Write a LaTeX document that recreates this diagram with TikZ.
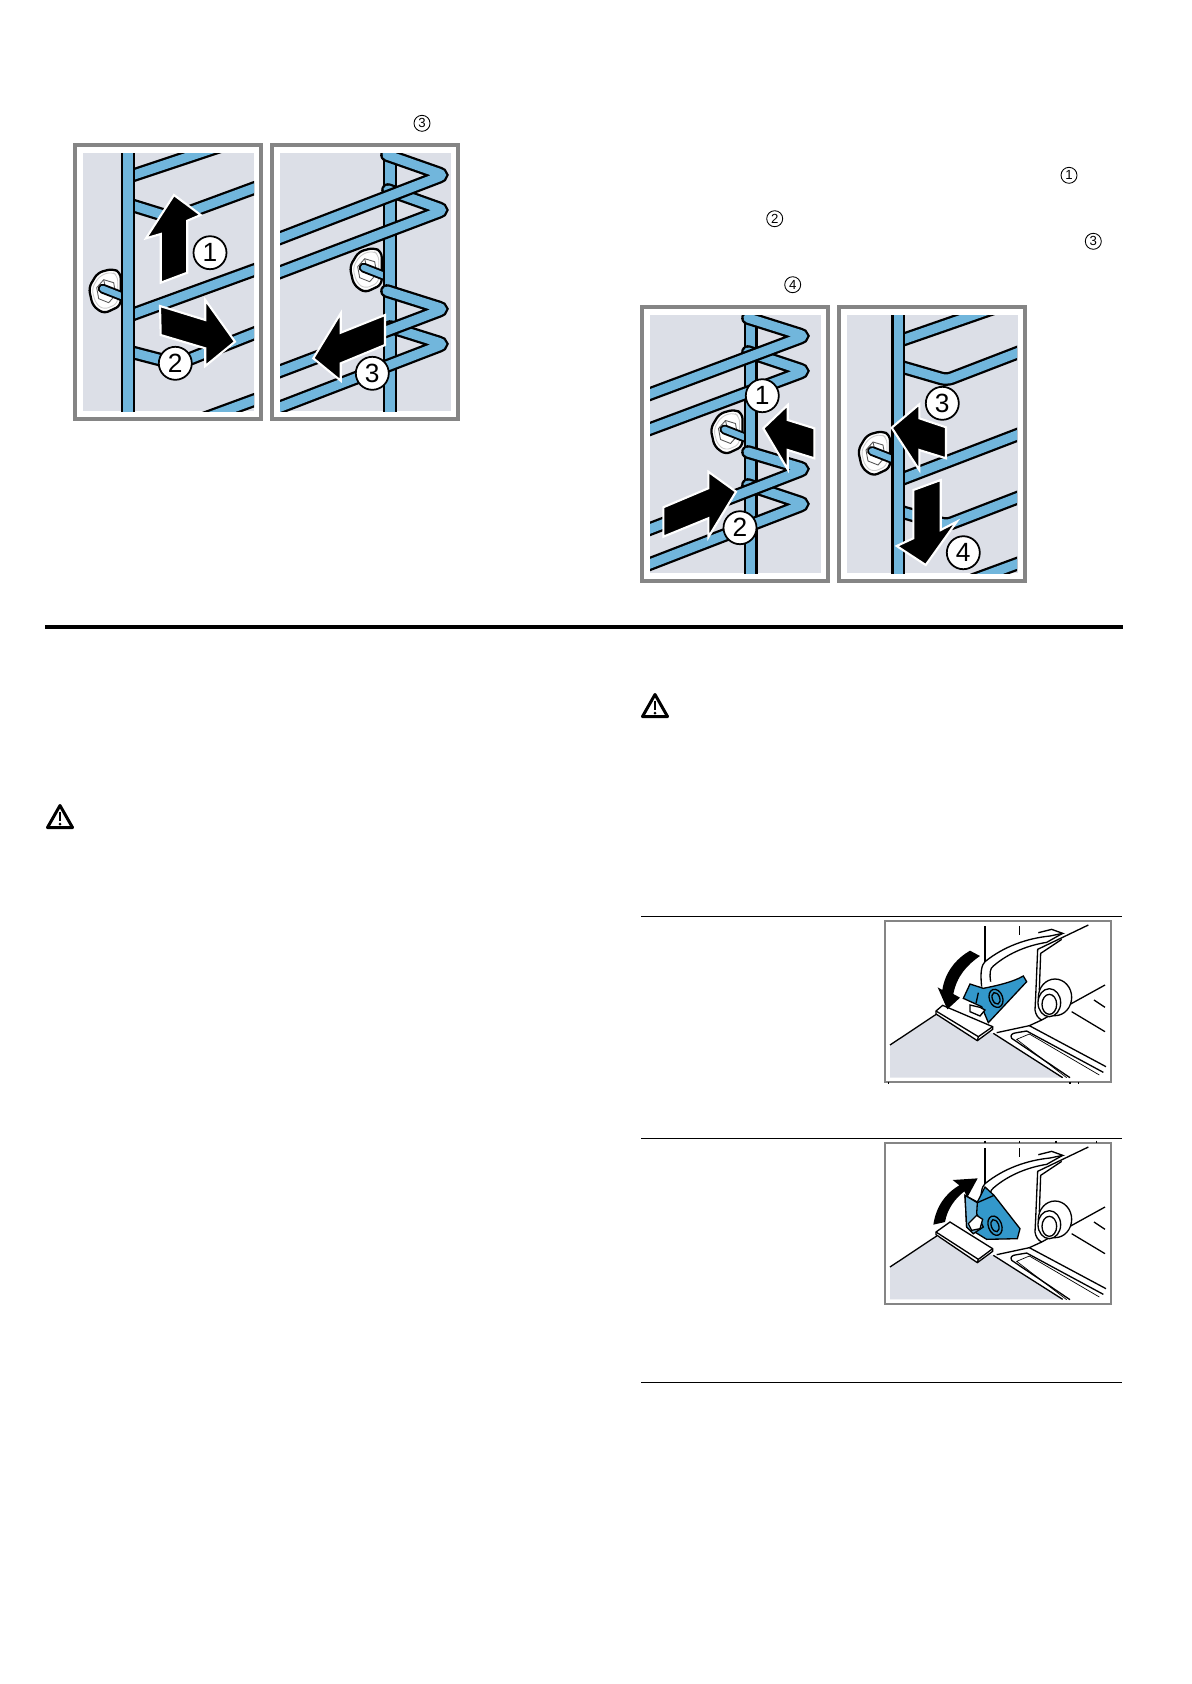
\documentclass[tikz,border=0pt]{standalone}
\usepackage{fontspec}
\setmainfont{Liberation Sans}
\usetikzlibrary{positioning}

\definecolor{rackblue}{HTML}{71B6DC}
\definecolor{latchblue}{HTML}{3398CB}
\definecolor{panelgrey}{HTML}{DCDFE7}
\definecolor{framegrey}{HTML}{858585}

\newcommand{\wirerun}[1]{\draw[wireedge] #1; \draw[wirefill] #1;}
\newcommand{\boltat}[2]{
  \begin{scope}[shift={(#1,#2)}]
    \draw[washer] (-17,-4) -- (-8,-19) -- (7,-23) -- (15,-19) -- (15,14) -- (-2,22) -- (-13,14) -- cycle;
    \draw[washerring] (-14,-3) -- (-6,-16) -- (6,-20) -- (12,-16) -- (12,12) -- (-2,18) -- (-10,12) -- cycle;
    \draw[boltnut] (-9,-4) -- (-2,-12) -- (8,-9) -- (10,3) -- (3,11) -- (-7,7) -- cycle;
    \draw[boltnut] (-2,-12) -- (0,-3) -- (10,3);
    \draw[stickedge] (-3,-3) -- (20,6);
    \draw[stickfill] (-3,-3) -- (20,6);
  \end{scope}
}
\newcommand{\ovenbody}{
  \draw[thinline] (345,48) -- (345,155);
  \draw[thinline] (448,48) -- (448,75);
  \draw[thinline] (335,230) .. controls (330,185) and (335,165) .. (345,155) .. controls (400,110) and (470,85) .. (540,78) -- (578,70) -- (545,58) -- (505,68);
  \draw[thinline] (362,215) .. controls (358,190) and (360,175) .. (370,168) .. controls (420,125) and (480,105) .. (530,97) -- (578,70);
  \draw[thinline] (655,45) -- (503,118) -- (497,260) -- (495,300) .. controls (497,315) and (505,325) .. (515,330) -- (705,225);
  \draw[thinline] (575,88) -- (512,130) -- (508,240);
  \draw[thinline,fill=white] (555,262) ellipse (50 and 55);
  \draw[thinline,fill=white] (538,278) ellipse (34 and 42);
  \draw[thinline] (538,283) ellipse (22 and 30);
  \draw[thinline] (605,305) -- (705,365);
  \draw[thinline] (672,270) -- (705,292);
  \draw[thinline] (380,368) -- (478,347) -- (708,470);
  \draw[thinline] (515,330) -- (478,347);
  \draw[thinline] (600,503) -- (425,385) .. controls (420,375) and (425,370) .. (440,368) -- (470,363) -- (700,487);
  \draw[hairline] (590,503) -- (440,388) -- (478,372) -- (688,495);
}

\begin{document}
\begin{tikzpicture}[
  x=0.02cm, y=-0.02cm,
  wireedge/.style={draw=black, line width=7.8pt, line cap=round, rounded corners=3pt},
  wirefill/.style={draw=rackblue, line width=5.2pt, line cap=round, rounded corners=3pt},
  stickedge/.style={draw=black, line width=5.6pt, line cap=round},
  stickfill/.style={draw=rackblue, line width=3.4pt, line cap=round},
  washer/.style={draw=black, fill=white, line width=1.3pt, rounded corners=3pt},
  washerring/.style={draw=black!20, line width=0.5pt, rounded corners=3pt},
  boltnut/.style={draw=black!65, fill=none, line width=0.5pt},
  framebox/.style={draw=framegrey, fill=white, line width=1.9pt},
  latchbox/.style={draw=framegrey, fill=white, line width=1.1pt},
  greybox/.style={fill=panelgrey},
  bigarrow/.style={draw=white, fill=black, line width=1.2pt, miter limit=20},
  numlabel/.style={draw=black, fill=white, circle, line width=1pt, minimum size=0.66cm, inner sep=0pt, font=\fontsize{15}{15}\selectfont},
  smallnum/.style={draw=black, circle, line width=0.5pt, minimum size=0.32cm, inner sep=0pt, font=\fontsize{7.5}{8}\selectfont},
  thinline/.style={draw=black, line width=0.75pt},
  hairline/.style={draw=black, line width=0.4pt},
  warntri/.style={draw=black, line width=1.7pt, line join=round, fill=white},
  ruleline/.style={draw=black, line width=0.55pt}
]
\useasboundingbox (0,0) rectangle (1191,1684);
\fill[white] (0,0) rectangle (1191,1684);

% frames of the rack pictures
\foreach \px/\py in {75/145, 272/145, 642/307, 839/307} {
  \draw[framebox] (\px,\py) rectangle ++(186,274);
  \fill[greybox] (\px+8,\py+8) rectangle ++(171,258);
}

% rack, first picture
\begin{scope}
  \clip (83,153) rectangle (254,411);
  \wirerun{(131,176) -- (230,143)}
  \wirerun{(131,205) -- (173,218) -- (260,186)}
  \wirerun{(131,315) -- (260,268)}
  \wirerun{(131,352) -- (177,364) -- (260,331)}
  \wirerun{(200,420) -- (260,398)}
  \boltat{105.7}{291.7}
  \draw[wireedge,line cap=butt] (128,150) -- (128,415);
  \draw[wirefill,line cap=butt] (128,150) -- (128,415);
  \draw[bigarrow] (174,195) -- (200.7,215) -- (187.3,220.7) -- (187.3,272.7) -- (160.7,282.7) -- (160.7,234) -- (146,238.3) -- cycle;
  \draw[bigarrow] (160,306) -- (205.3,320) -- (205.3,300) -- (235,341.7) -- (205.3,366) -- (205.3,348.3) -- (160.7,335) -- cycle;
\end{scope}
\node[numlabel] (upperone) at (210,252.7) {1};
\node[numlabel] (uppertwo) at (175.3,363.3) {2};

% rack, second picture
\begin{scope}
  \clip (280,153) rectangle (449,411);
  \boltat{366.7}{270.7}
  \draw[wireedge,line cap=butt] (390,150) -- (390,415);
  \draw[wirefill,line cap=butt] (390,150) -- (390,415);
  \wirerun{(388,190) -- (444,210) -- (270,276)}
  \wirerun{(387,155) -- (444,175) -- (270,242)}
  \wirerun{(390,327) -- (444,344) -- (270,411)}
  \wirerun{(387,291) -- (444,309) -- (270,375)}
  \draw[bigarrow] (385,315) -- (385,345) -- (340.7,363.3) -- (340.7,380.7) -- (313.3,358.3) -- (340.7,313.3) -- (340.7,332.7) -- cycle;
\end{scope}
\node[numlabel] (upperthree) at (372.3,373.3) {3};

% rack, third picture
\begin{scope}
  \clip (650,315) rectangle (820,573);
  \boltat{727.5}{432.5}
  \draw[wireedge,line cap=butt] (750.7,312) -- (750.7,576);
  \draw[wirefill,line cap=butt] (750.7,312) -- (750.7,576);
  \wirerun{(748,352) -- (805,371) -- (642,432)}
  \wirerun{(748,318) -- (805,336) -- (642,397)}
  \wirerun{(748,485) -- (805,504) -- (642,567)}
  \wirerun{(748,452) -- (805,469) -- (642,532)}
  \draw[bigarrow] (787.7,405) -- (787.7,420) -- (814.3,428.3) -- (814.3,458.3) -- (787.7,450) -- (787.7,469.3) -- (763.3,428.3) -- cycle;
  \draw[bigarrow] (663.3,507.3) -- (708.3,488.3) -- (708.3,471.7) -- (736,491.7) -- (708.3,537.3) -- (708.3,518.3) -- (663.3,536.7) -- cycle;
\end{scope}
\node[numlabel] (lowerone) at (762.3,395.7) {1};
\node[numlabel] (lowertwo) at (740,527.7) {2};

% rack, fourth picture
\begin{scope}
  \clip (847,315) rectangle (1017,573);
  \wirerun{(902,340) -- (1000,306)}
  \wirerun{(902,367) -- (946.7,380) -- (1022,351)}
  \wirerun{(902,479) -- (1022,433)}
  \wirerun{(902,512) -- (946.7,525) -- (1022,496)}
  \wirerun{(973,580) -- (1022,562)}
  \boltat{875}{454}
  \draw[wireedge,line cap=butt] (898.3,312) -- (898.3,576);
  \draw[wirefill,line cap=butt] (898.3,312) -- (898.3,576);
  \draw[bigarrow] (891.7,427.7) -- (919.3,404.3) -- (919.3,418.3) -- (946,427.3) -- (946,458.3) -- (919.3,450) -- (919.3,470) -- cycle;
  \draw[bigarrow] (913.3,490) -- (940.7,480) -- (940.7,530) -- (956.7,521.7) -- (925.7,565) -- (896.7,546) -- (913.3,538.3) -- cycle;
\end{scope}
\node[numlabel] (lowerthree) at (942.3,403.3) {3};
\node[numlabel] (lowerfour) at (963.3,552.7) {4};

% small numbers in the column text
\node[smallnum] (textthreeA) at (422,123.3) {3};
\node[smallnum] (textone) at (1069,175.3) {1};
\node[smallnum] (texttwo) at (774.7,218.7) {2};
\node[smallnum] (textthreeB) at (1093.3,241.3) {3};
\node[smallnum] (textfour) at (792.7,284.7) {4};

% rules
\draw[black, line width=2.27pt] (45,626.8) -- (1122.5,626.8);
\foreach \ry in {916.3,1138,1382}
  \draw[ruleline] (641,\ry) -- (1122,\ry);

% warning signs
\foreach \wx/\wy in {655/705.5, 60/816.5} {
  \draw[warntri] (\wx,\wy-11) -- (\wx+12.5,\wy+11) -- (\wx-12.5,\wy+11) -- cycle;
  \draw[black, line width=1.2pt] (\wx,\wy-5) -- (\wx,\wy+4);
  \fill[black] (\wx,\wy+7.5) circle (1.5);
}

% latch picture, closed
\begin{scope}[shift={(870,910)},scale=1/3]
  \draw[latchbox] (44,32) rectangle (722,517);
  \begin{scope}
    \clip (50,40) rectangle (714,509);
    \fill[greybox] (60,405) -- (200,315) -- (370,370) -- (578,503) -- (60,503) -- cycle;
    \draw[thinline] (60,405) -- (200,312);
    \draw[thinline] (370,370) -- (578,503);
    \ovenbody
    \draw[thinline,fill=latchblue] (300,222) -- (340,235) .. controls (390,225) and (430,215) .. (460,198) -- (470,215) -- (355,338) -- (335,290) -- (280,265) -- cycle;
    \draw[thinline,fill=white] (300,285) -- (330,292) -- (345,300) -- (330,318) -- (300,305) -- cycle;
    \draw[thinline,rotate around={20:(378,265)}] (378,265) ellipse (20 and 28);
    \draw[thinline,rotate around={20:(378,265)}] (378,265) ellipse (11 and 18);
    \draw[thinline] (325,248) -- (318,280);
    \draw[thinline,fill=white] (198,303) -- (218,286) -- (368,350) -- (368,358) -- (322,392) -- (198,312) -- cycle;
    \draw[thinline] (198,303) -- (325,380) -- (368,350);
    \draw[thinline] (325,380) -- (322,392);
    \fill[black] (203,232) -- (217,240) .. controls (225,185) and (260,145) .. (300,122) -- (330,138) .. controls (290,165) and (260,200) .. (250,252) -- (270,263) -- (232,298) -- cycle;
  \end{scope}
  \draw[thinline] (55,517) -- (55,523);
  \draw[thinline] (600,517) -- (600,523);
  \draw[thinline] (625,517) -- (625,523);
\end{scope}

% latch picture, open
\begin{scope}[shift={(870,1132)},scale=1/3]
  \draw[latchbox] (44,32) rectangle (722,516);
  \begin{scope}
    \clip (50,40) rectangle (714,508);
    \fill[greybox] (60,405) -- (200,315) -- (370,370) -- (578,502) -- (60,502) -- cycle;
    \draw[thinline] (60,405) -- (200,312);
    \draw[thinline] (370,370) -- (578,502);
    \ovenbody
    \draw[thinline,fill=latchblue] (285,190) -- (322,210) -- (345,165) -- (372,190) -- (450,290) -- (442,320) -- (350,322) -- (290,285) -- cycle;
    \draw[thinline,fill=rackblue] (285,190) -- (322,212) -- (320,245) -- (340,285) -- (310,305) -- (290,285) -- cycle;
    \draw[thinline,fill=white] (295,275) -- (320,250) -- (338,262) -- (330,290) -- (305,295) -- cycle;
    \draw[thinline] (322,212) -- (372,190);
    \draw[thinline,rotate around={20:(375,281)}] (375,281) ellipse (20 and 30);
    \draw[thinline,rotate around={20:(375,281)}] (375,281) ellipse (11 and 19);
    \draw[thinline,fill=white] (198,300) -- (240,270) -- (368,350) -- (368,358) -- (322,392) -- (198,308) -- cycle;
    \draw[thinline] (198,300) -- (325,382) -- (368,350);
    \draw[thinline] (325,382) -- (322,392);
    \fill[black] (190,278) .. controls (198,225) and (225,185) .. (268,160) -- (248,144) -- (323,139) -- (292,196) -- (283,178) .. controls (255,200) and (232,230) .. (225,270) -- cycle;
  \end{scope}
  \foreach \tx in {345,448,558,680}
    \draw[thinline] (\tx,26) -- (\tx,32);
\end{scope}
\end{tikzpicture}
\end{document}
